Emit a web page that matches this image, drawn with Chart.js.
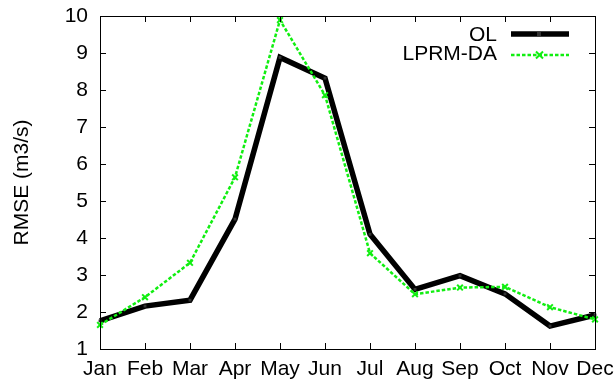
<!DOCTYPE html>
<html>
<head>
<meta charset="utf-8">
<script src="https://cdn.jsdelivr.net/npm/chart.js@4.4.1/dist/chart.umd.min.js"></script>
<style>
  html, body { margin: 0; padding: 0; background: #fff; }
  #wrap { width: 615px; height: 381px; }
</style>
</head>
<body>
<div id="wrap"><canvas id="rmseChart" width="615" height="381"></canvas></div>
<script>
const months = ["Jan", "Feb", "Mar", "Apr", "May", "Jun", "Jul", "Aug", "Sep", "Oct", "Nov", "Dec"];
const olValues = [1.76, 2.16, 2.32, 4.51, 8.88, 8.32, 4.10, 2.61, 2.98, 2.49, 1.62, 1.92];
const lprmValues = [1.65, 2.40, 3.33, 5.64, 9.89, 7.86, 3.59, 2.48, 2.66, 2.68, 2.13, 1.80];
const yTicks = [1, 2, 3, 4, 5, 6, 7, 8, 9, 10];

const FONT = "'Liberation Sans', Arial, Helvetica, sans-serif";
const GREEN = "#11ee11";

// frame, inward tick marks on all four sides, and the legend in the top right
const framePlugin = {
  id: "frame",
  afterDatasetsDraw(chart) {
    const { ctx, chartArea: a, scales } = chart;
    const x = scales.x, y = scales.y;
    ctx.save();
    ctx.strokeStyle = "#000";
    ctx.lineWidth = 1;
    ctx.beginPath();
    months.forEach((m, i) => {
      const px = Math.round(x.getPixelForValue(i)) + 0.5;
      ctx.moveTo(px, a.bottom); ctx.lineTo(px, a.bottom - 6);
      ctx.moveTo(px, a.top); ctx.lineTo(px, a.top + 6);
    });
    yTicks.forEach((v) => {
      const py = Math.round(y.getPixelForValue(v)) + 0.5;
      ctx.moveTo(a.left, py); ctx.lineTo(a.left + 6, py);
      ctx.moveTo(a.right, py); ctx.lineTo(a.right - 6, py);
    });
    ctx.stroke();
    ctx.strokeRect(Math.round(a.left) + 0.5, Math.round(a.top) + 0.5,
      Math.round(a.right - a.left), Math.round(a.bottom - a.top));

    // legend
    ctx.font = "21px " + FONT;
    ctx.fillStyle = "#000";
    ctx.textAlign = "right";
    ctx.textBaseline = "middle";
    const rows = [34, 55];
    const textRows = [35, 54.5];
    chart.data.datasets.forEach((ds, i) => {
      const ly = rows[i];
      ctx.fillText(ds.label, 497, textRows[i]);
      ctx.beginPath();
      ctx.strokeStyle = ds.borderColor;
      ctx.lineWidth = ds.borderWidth;
      ctx.setLineDash(ds.borderDash || []);
      ctx.moveTo(511, ly); ctx.lineTo(569, ly);
      ctx.stroke();
      ctx.setLineDash([]);
      if (ds.pointStyle === "crossRot") {
        ctx.lineWidth = 2;
        ctx.beginPath();
        ctx.moveTo(536, ly - 3.5); ctx.lineTo(543, ly + 3.5);
        ctx.moveTo(536, ly + 3.5); ctx.lineTo(543, ly - 3.5);
        ctx.stroke();
      } else {
        ctx.fillStyle = ds.pointBackgroundColor;
        ctx.fillRect(537, ly - 2, 4, 4);
        ctx.fillStyle = "#000";
      }
    });
    ctx.restore();
  }
};

new Chart(document.getElementById("rmseChart"), {
  type: "line",
  data: {
    labels: months,
    datasets: [
      {
        label: "OL",
        data: olValues,
        borderColor: "#000",
        borderWidth: 5.5,
        pointStyle: "rect",
        pointRadius: 2,
        pointBackgroundColor: "#333",
        pointBorderWidth: 0,
        tension: 0,
        order: 2
      },
      {
        label: "LPRM-DA",
        data: lprmValues,
        borderColor: GREEN,
        borderWidth: 2.5,
        borderDash: [3.5, 2],
        pointStyle: "crossRot",
        pointRadius: 4,
        pointBorderColor: GREEN,
        pointBorderWidth: 2,
        tension: 0,
        order: 1
      }
    ]
  },
  options: {
    responsive: false,
    animation: false,
    layout: { padding: { top: 16, right: 20, left: 0, bottom: 0 } },
    plugins: {
      legend: { display: false },
      tooltip: { enabled: false }
    },
    scales: {
      x: {
        offset: false,
        grid: { display: false, drawTicks: false },
        border: { display: false },
        ticks: {
          color: "#000",
          font: { family: FONT, size: 21 },
          padding: 8,
          autoSkip: false,
          maxRotation: 0
        },
        afterFit(scale) {
          scale.height = 32;
          scale.paddingLeft = 0;
          scale.paddingRight = 0;
        }
      },
      y: {
        min: 1,
        max: 10,
        grid: { display: false, drawTicks: false },
        border: { display: false },
        ticks: {
          stepSize: 1,
          color: "#000",
          font: { family: FONT, size: 21 },
          padding: 12
        },
        title: {
          display: true,
          text: "RMSE (m3/s)",
          color: "#000",
          font: { family: FONT, size: 21 },
          padding: { top: 10, bottom: 0 }
        },
        afterFit(scale) {
          scale.width = 100;
          scale.paddingTop = 0;
          scale.paddingBottom = 0;
        }
      }
    }
  },
  plugins: [framePlugin]
});
</script>
</body>
</html>
